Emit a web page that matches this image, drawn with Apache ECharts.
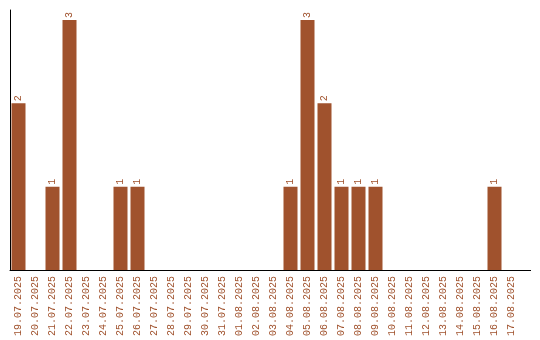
<!DOCTYPE html>
<html><head><meta charset="utf-8">
<script src="https://cdn.jsdelivr.net/npm/echarts@6/dist/echarts.min.js"></script>
<style>html,body{margin:0;padding:0;background:#fff}#c{width:540px;height:340px}</style>
</head><body><div id="c"></div>
<script>
const categories = ["19.07.2025","20.07.2025","21.07.2025","22.07.2025","23.07.2025","24.07.2025","25.07.2025","26.07.2025","27.07.2025","28.07.2025","29.07.2025","30.07.2025","31.07.2025","01.08.2025","02.08.2025","03.08.2025","04.08.2025","05.08.2025","06.08.2025","07.08.2025","08.08.2025","09.08.2025","10.08.2025","11.08.2025","12.08.2025","13.08.2025","14.08.2025","15.08.2025","16.08.2025","17.08.2025"];
const values = [2,0,1,3,0,0,1,1,0,0,0,0,0,0,0,0,1,3,2,1,1,1,0,0,0,0,0,0,1,0];
const color = '#a0522d';
const chart = echarts.init(document.getElementById('c'));
chart.setOption({
  animation:false,
  grid:{left:10,right:20,top:10,bottom:70},
  xAxis:{type:'category',data:categories,
    axisLine:{lineStyle:{color:'#000',width:1}},axisTick:{show:false},
    axisLabel:{rotate:90,color:color,fontFamily:'Liberation Mono',fontSize:10,margin:6,interval:0}},
  yAxis:{type:'value',min:0,max:3.12,show:true,
    axisLine:{show:true,lineStyle:{color:'#000',width:1}},axisTick:{show:false},
    axisLabel:{show:false},splitLine:{show:false}},
  series:[{type:'bar',data:values.map(v=>v===0?null:v),barWidth:14,
    itemStyle:{color:color},
    label:{show:true,position:'top',rotate:90,align:'left',verticalAlign:'middle',distance:2,
      color:color,fontFamily:'Liberation Mono',fontSize:10}}],
  graphic:[{type:'line',shape:{x1:520,y1:270.5,x2:531,y2:270.5},style:{stroke:'#000',lineWidth:1},silent:true}]
});
</script></body></html>
